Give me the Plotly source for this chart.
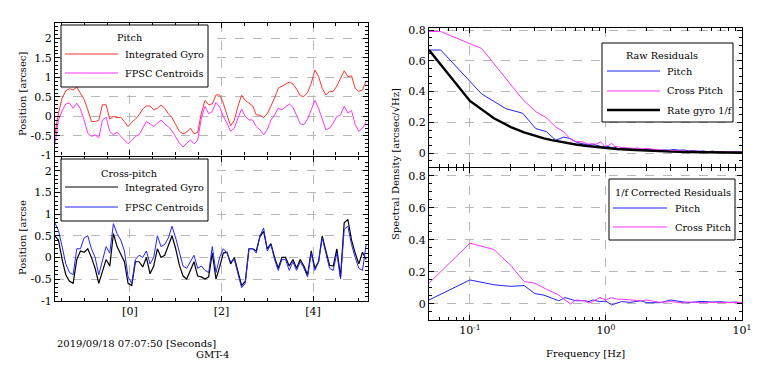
import plotly.graph_objects as go

# --- time series (values every 0.08 s starting at -1.64 s) ---
T0, DT = -1.64, 0.08
pitch_gyro = [-0.47, 0.09, 0.47, 0.66, 0.71, 0.68, 0.75, 0.61, 0.44, 0.17,
              -0.13, -0.13, -0.10, 0.30, 0.30, -0.07, 0.0, -0.03, -0.02, -0.13,
              -0.26, -0.15, -0.07, 0.04, 0.19, 0.27, 0.27, 0.17, 0.21, 0.29,
              0.21, 0.07, -0.03, -0.21, -0.38, -0.45, -0.40, -0.30, -0.44, -0.41,
              0.09, 0.41, 0.30, 0.32, 0.55, 0.55, 0.34, 0.04, -0.24, -0.10,
              0.26, 0.54, 0.41, 0.34, 0.27, 0.04, 0.03, -0.03, 0.07, 0.27,
              0.47, 0.72, 0.78, 0.83, 0.88, 0.83, 0.70, 0.53, 0.51, 0.61,
              0.85, 1.19, 1.02, 0.72, 0.55, 0.64, 0.64, 0.78, 0.98, 1.17,
              1.02, 1.04, 0.72, 0.64, 0.68, 0.92]
pitch_fpsc = [-0.72, -0.09, 0.15, 0.32, 0.34, 0.21, 0.34, 0.19, -0.09, -0.43,
              -0.51, -0.47, -0.55, -0.09, -0.02, -0.38, -0.47, -0.40, -0.51, -0.60,
              -0.70, -0.61, -0.51, -0.47, -0.30, -0.13, -0.19, -0.26, -0.17, -0.09,
              -0.19, -0.26, -0.37, -0.51, -0.68, -0.78, -0.68, -0.60, -0.70, -0.61,
              -0.04, 0.26, 0.07, 0.13, 0.36, 0.24, 0.0, -0.17, -0.38, -0.30,
              -0.04, 0.19, 0.0, -0.09, -0.09, -0.26, -0.34, -0.47, -0.34, -0.09,
              0.04, 0.21, 0.17, 0.24, 0.32, 0.24, 0.04, -0.19, -0.21, -0.07,
              0.17, 0.41, 0.21, -0.09, -0.34, -0.30, -0.17, 0.0, 0.04, 0.26,
              0.09, 0.15, -0.21, -0.38, -0.30, -0.13]
cross_gyro = [0.5, 0.4, -0.05, -0.4, -0.55, -0.6, -0.05, 0.15, 0.12, 0.2,
              0.0, -0.25, -0.6, -0.35, -0.05, -0.2, 0.55, 0.25, 0.08, -0.1,
              -0.6, -0.65, -0.1, -0.1, -0.22, 0.0, -0.38, -0.2, 0.2, 0.0,
              0.05, 0.3, 0.5, 0.2, -0.18, -0.43, -0.5, -0.3, -0.1, -0.43,
              -0.45, -0.5, -0.45, 0.1, -0.5, -0.22, 0.1, 0.12, -0.15, 0.0,
              -0.33, -0.65, -0.55, 0.2, 0.2, 0.15, 0.48, 0.6, 0.2, 0.32,
              0.0, -0.25, 0.0, 0.0, -0.2, -0.05, -0.25, -0.05, -0.2, -0.4,
              0.15, -0.25, -0.1, 0.5, 0.15, -0.18, -0.2, 0.2, -0.45, 0.8,
              0.88, 0.4, 0.1, -0.15, 0.12, -0.05]
cross_fpsc = [0.8, 0.62, 0.25, -0.15, -0.35, -0.4, 0.2, 0.2, 0.45, 0.5,
              0.2, 0.0, -0.4, -0.05, 0.25, 0.1, 0.78, 0.55, 0.4, 0.15,
              -0.45, -0.6, -0.05, 0.05, 0.0, 0.15, -0.15, 0.0, 0.5, 0.25,
              0.3, 0.45, 0.72, 0.45, 0.1, -0.2, -0.25, -0.1, 0.05, -0.25,
              -0.2, -0.3, -0.35, 0.25, -0.35, 0.0, 0.2, 0.1, -0.1, -0.05,
              -0.35, -0.7, -0.6, 0.2, 0.2, 0.1, 0.5, 0.68, 0.15, 0.3,
              -0.05, -0.3, -0.05, -0.05, -0.3, -0.1, -0.3, -0.1, -0.25, -0.45,
              0.1, -0.3, -0.1, 0.45, 0.1, -0.25, -0.3, 0.1, -0.5, 0.65,
              0.72, 0.3, 0.0, -0.25, -0.3, 0.3]
time_ticks = [0, 2, 4]
time_ticktext = ["[0]", "[2]", "[4]"]

# --- spectra ---
freq_raw = [0.05, 0.061, 0.122, 0.183, 0.244, 0.305, 0.366, 0.427, 0.488, 0.549,
            0.61, 0.671, 0.732, 0.793, 0.854, 0.916, 0.977, 1.04, 1.1, 1.16,
            1.22, 1.34, 1.46, 1.59, 1.71, 1.83, 2.0, 2.2, 2.44, 2.69,
            2.93, 3.17, 3.42, 3.72, 4.03, 4.39, 4.76, 5.19, 5.61, 6.1,
            6.59, 7.2, 7.81, 8.54, 9.27, 10.0]
raw_pitch = [0.67, 0.67, 0.385, 0.29, 0.26, 0.16, 0.14, 0.085, 0.105, 0.095,
             0.07, 0.06, 0.055, 0.06, 0.05, 0.045, 0.04, 0.045, 0.035, 0.04,
             0.03, 0.035, 0.03, 0.028, 0.03, 0.025, 0.025, 0.022, 0.02, 0.022,
             0.02, 0.025, 0.02, 0.022, 0.015, 0.018, 0.012, 0.015, 0.01, 0.014,
             0.01, 0.012, 0.008, 0.01, 0.008, 0.009]
raw_cross = [0.79, 0.79, 0.68, 0.49, 0.35, 0.27, 0.23, 0.17, 0.14, 0.09,
             0.075, 0.075, 0.06, 0.06, 0.06, 0.075, 0.045, 0.05, 0.065, 0.045,
             0.04, 0.035, 0.035, 0.03, 0.035, 0.028, 0.032, 0.025, 0.022, 0.02,
             0.018, 0.02, 0.015, 0.017, 0.013, 0.015, 0.012, 0.012, 0.01, 0.012,
             0.008, 0.01, 0.008, 0.008, 0.007, 0.007]
freq_gyro = [0.05, 0.1, 0.15, 0.2, 0.25, 0.3, 0.35, 0.4, 0.5, 0.6, 0.7, 0.8,
             1.0, 1.2, 1.5, 2, 2.5, 3, 4, 5, 6, 7, 8, 10]
gyro_1f = [0.67, 0.34, 0.227, 0.17, 0.136, 0.113, 0.097, 0.085, 0.068, 0.057,
           0.049, 0.043, 0.034, 0.028, 0.023, 0.017, 0.014, 0.011, 0.0085,
           0.0068, 0.0057, 0.0049, 0.0043, 0.0034]
freq_corr = [0.05, 0.1, 0.15, 0.2, 0.25, 0.3, 0.35, 0.4, 0.45, 0.5, 0.55, 0.6,
             0.7, 0.75, 0.8, 0.9, 1.0, 1.1, 1.2, 1.3, 1.5, 1.8, 2.0, 2.5, 3,
             3.5, 4, 5, 6, 7, 8, 9, 10]
corr_pitch = [0.025, 0.15, 0.12, 0.11, 0.115, 0.065, 0.055, 0.035, 0.02, 0.04,
              0.03, 0.02, 0.02, 0.015, 0.025, 0.015, 0.018, -0.006, 0.005, 0.015,
              0.01, 0.02, 0.008, 0.008, 0.025, 0.015, 0.008, 0.016, 0.012, 0.014,
              0.01, 0.012, 0.008]
corr_cross = [0.13, 0.38, 0.34, 0.24, 0.14, 0.13, 0.1, 0.077, 0.056, 0.025,
              0.0, 0.025, 0.02, 0.005, 0.015, 0.04, 0.025, 0.04, 0.03, 0.03,
              0.025, 0.02, 0.025, 0.01, 0.015, 0.008, 0.012, 0.008, 0.01, 0.008,
              0.01, 0.008, 0.01]
freq_ticks = [0.1, 1, 10]
freq_ticktext = ["10<sup>-1</sup>", "10<sup>0</sup>", "10<sup>1</sup>"]

W, H = 772, 374
FONT = "DejaVu Serif"
RED, MAGENTA, BLUE = "#ff3333", "#ff33ff", "#2222ff"


def px(x):
    return x / W


def py(y):
    return 1 - y / H


fig = go.Figure()
legend_rows = {}  # legend id -> list of (name, color, width)


def add_line(x, y, name, color, width, legend, axes, **kw):
    fig.add_trace(go.Scatter(x=x, y=y, mode="lines", name=name, showlegend=False,
                             line=dict(color=color, width=width),
                             xaxis=axes[0], yaxis=axes[1], **kw))
    legend_rows.setdefault(legend, []).append((name, color, width))


add_line(None, pitch_gyro, "Integrated Gyro", RED, 1, "pitch", ("x", "y"), x0=T0, dx=DT)
add_line(None, pitch_fpsc, "FPSC Centroids", MAGENTA, 1, "pitch", ("x", "y"), x0=T0, dx=DT)
add_line(None, cross_gyro, "Integrated Gyro", "black", 1.2, "cross", ("x2", "y2"), x0=T0, dx=DT)
add_line(None, cross_fpsc, "FPSC Centroids", BLUE, 1, "cross", ("x2", "y2"), x0=T0, dx=DT)

add_line(freq_raw, raw_pitch, "Pitch", BLUE, 1, "raw", ("x3", "y3"))
add_line(freq_raw, raw_cross, "Cross Pitch", MAGENTA, 1, "raw", ("x3", "y3"))
add_line(freq_gyro, gyro_1f, "Rate gyro 1/f", "black", 2.4, "raw", ("x3", "y3"))
add_line(freq_corr, corr_pitch, "Pitch", BLUE, 1, "corr", ("x4", "y4"))
add_line(freq_corr, corr_cross, "Cross Pitch", MAGENTA, 1, "corr", ("x4", "y4"))

frame = dict(showline=True, linecolor="black", linewidth=1.3, mirror="allticks",
             ticks="inside", ticklen=5, tickcolor="black", zeroline=False,
             showgrid=True, gridcolor="#b8b8b8", griddash="dash", gridwidth=1,
             tickfont=dict(family=FONT, size=11))

left_dom = [px(55), px(368)]
right_dom = [px(429), px(742)]
ylab = ["-1", "-0.5", "0", "0.5", "1", "1.5", "2"]
yval = [-1, -0.5, 0, 0.5, 1, 1.5, 2]
minor_t = dict(ticks="inside", ticklen=3, dtick=0.5, tick0=0, tickcolor="black")
minor_y = dict(ticks="inside", ticklen=3, dtick=0.1, tick0=0, tickcolor="black")
minor_f = dict(ticks="inside", ticklen=3, dtick="D1", tickcolor="black")
minor_s = dict(ticks="inside", ticklen=3, dtick=0.05, tick0=0, tickcolor="black")

fig.update_layout(
    width=W, height=H, margin=dict(l=0, r=0, t=0, b=0, autoexpand=False),
    paper_bgcolor="white", plot_bgcolor="white", showlegend=False,
    font=dict(family=FONT, size=11, color="black"),
    xaxis=dict(frame, domain=left_dom, anchor="y", range=[-1.636, 5.2],
               tickvals=time_ticks, showticklabels=False, minor=minor_t),
    yaxis=dict(frame, domain=[py(155.5), py(22.7)], anchor="x", range=[-1, 2.4],
               tickvals=yval, ticktext=ylab, minor=minor_y),
    xaxis2=dict(frame, domain=left_dom, anchor="y2", range=[-1.636, 5.2],
                tickvals=time_ticks, ticktext=time_ticktext, minor=minor_t),
    yaxis2=dict(frame, domain=[py(300.7), py(157)], anchor="x2", range=[-1, 2.32],
                tickvals=yval, ticktext=ylab, minor=minor_y),
    xaxis3=dict(frame, type="log", domain=right_dom, anchor="y3", range=[-1.301, 1],
                tickvals=freq_ticks, showticklabels=False, minor=minor_f),
    yaxis3=dict(frame, domain=[py(167.3), py(28)], anchor="x3", range=[-0.091, 0.813],
                dtick=0.2, tick0=0, minor=minor_s),
    xaxis4=dict(frame, type="log", domain=right_dom, anchor="y4", range=[-1.301, 1],
                tickvals=freq_ticks, ticktext=freq_ticktext, minor=minor_f),
    yaxis4=dict(frame, domain=[py(320), py(167.5)], anchor="x4", range=[-0.1, 0.852],
                dtick=0.2, tick0=0, minor=minor_s),
)

LEG_FONT = dict(family=FONT, size=9.7, color="black")
legend_boxes = {
    # id: (title, box x0, x1, y0, y1, title x, title anchor, title y,
    #      line x0, line x1, text x, row ys)
    "pitch": ("Pitch", 61, 208, 25, 87, 129, "center", 38, 65, 118, 123, [54, 73]),
    "cross": ("Cross-pitch", 61, 208, 159, 221, 129, "center", 173, 65, 118, 123, [187, 207]),
    "raw": ("Raw Residuals", 602, 733, 43, 122, 662, "center", 55, 607, 660, 665, [71, 91, 110]),
    "corr": ("1/f Corrected Residuals", 609, 735, 179, 240, 613, "left", 192, 613, 667, 673, [208, 227]),
}
for key, (title, bx0, bx1, by0, by1, tx, tanchor, ty, lx0, lx1, txt_x, rows) in legend_boxes.items():
    fig.add_shape(type="rect", xref="paper", yref="paper",
                  x0=px(bx0), x1=px(bx1), y0=py(by1), y1=py(by0),
                  line=dict(color="black", width=1), fillcolor="white", layer="above")
    fig.add_annotation(xref="paper", yref="paper", x=px(tx), y=py(ty), text=title,
                       showarrow=False, xanchor=tanchor, yanchor="middle", font=LEG_FONT)
    for (name, color, width), ry in zip(legend_rows[key], rows):
        fig.add_shape(type="line", xref="paper", yref="paper",
                      x0=px(lx0), x1=px(lx1), y0=py(ry), y1=py(ry),
                      line=dict(color=color, width=width), layer="above")
        fig.add_annotation(xref="paper", yref="paper", x=px(txt_x), y=py(ry), text=name,
                           showarrow=False, xanchor="left", yanchor="middle", font=LEG_FONT)

notes = [
    dict(x=px(22), y=py(94), text="Position [arcsec]", textangle=-90),
    dict(x=px(22), y=py(238), text="Position [arcse", textangle=-90),
    dict(x=px(395), y=py(164), text="Spectral Density [arcsec/√Hz]", textangle=-90),
    dict(x=px(585.5), y=py(353), text="Frequency [Hz]"),
    dict(x=px(55), y=py(343), text="2019/09/18 07:07:50 [Seconds]", xanchor="left"),
    dict(x=px(212.5), y=py(354), text="GMT-4"),
]
for n in notes:
    base = dict(xref="paper", yref="paper", showarrow=False, xanchor="center",
                yanchor="middle", font=dict(family=FONT, size=10))
    base.update(n)
    fig.add_annotation(base)

# the page's default 8px body margin would shift the whole figure
fig.write_html("out.html", config={"displayModeBar": False},
               post_script="document.body.style.margin='0px';")
